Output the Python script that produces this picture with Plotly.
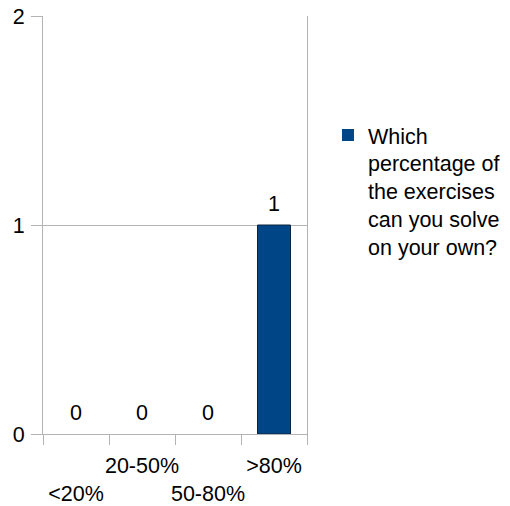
import plotly.graph_objects as go

categories = ["<20%", "20-50%", "50-80%", ">80%"]
values = [0, 0, 0, 1]
tick_labels = ["<br><20%", "20-50%", "<br>50-80%", ">80%"]
series_name = "Which<br>percentage of<br>the exercises<br>can you solve<br>on your own?"

FONT = "Liberation Sans, Arial, sans-serif"
GRID = "#b3b3b3"
FS = 21.5

fig = go.Figure()
fig.add_trace(go.Bar(
    x=categories, y=values, name=series_name,
    marker=dict(color="#004586",
                line=dict(color="#0d2440", width=[1 if v > 0 else 0 for v in values])),
    width=0.5,
))
fig.add_trace(go.Scatter(
    x=categories, y=values, mode="markers+text",
    text=[str(v) for v in values], textposition="top center",
    marker=dict(size=12, opacity=0), textfont=dict(size=FS, color="black", family=FONT),
    showlegend=False, hoverinfo="skip", cliponaxis=False,
))

fig.update_layout(
    width=510, height=506,
    margin=dict(l=43, r=203, t=16, b=72, autoexpand=False),
    plot_bgcolor="white", paper_bgcolor="white",
    font=dict(family=FONT, size=FS, color="black"),
    showlegend=True,
    legend=dict(x=1.0795, y=0.764, xanchor="left", yanchor="top", valign="top",
                font=dict(size=FS, family=FONT, color="black"), itemwidth=30,
                bgcolor="rgba(0,0,0,0)"),
)
fig.update_xaxes(
    type="category", categoryorder="array", categoryarray=categories,
    range=[-0.5, len(categories) - 0.5],
    tickmode="array", tickvals=categories, ticktext=tick_labels, tickangle=0,
    ticks="outside", tickson="boundaries", ticklen=10, tickcolor=GRID, tickwidth=1,
    showline=True, linecolor=GRID, linewidth=1, showgrid=False, automargin=False,
    ticklabelstandoff=12, ticklabeloverflow="allow",
    tickfont=dict(size=FS, family=FONT, color="black"),
)
fig.update_yaxes(
    range=[0, 2], dtick=1, tick0=0, automargin=False,
    ticks="outside", ticklen=11, tickcolor=GRID, tickwidth=1,
    showline=True, mirror=True, linecolor=GRID, linewidth=1,
    showgrid=True, gridcolor=GRID, gridwidth=1,
    zeroline=True, zerolinecolor=GRID, zerolinewidth=1,
    ticklabelstandoff=2, ticklabeloverflow="allow",
    tickfont=dict(size=FS, family=FONT, color="black"),
)

fig.write_html("out.html", config={"displayModeBar": False},
               post_script="document.body.style.margin='0';")
